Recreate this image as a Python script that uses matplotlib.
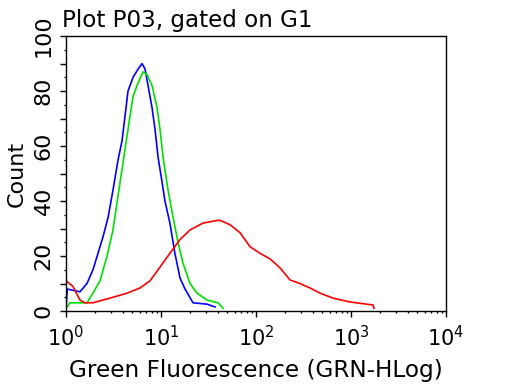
import numpy as np
import matplotlib
matplotlib.use("Agg")
import matplotlib.pyplot as plt
from matplotlib.ticker import FixedLocator, FuncFormatter, LogLocator, NullFormatter

# values (x in fluorescence units, y in counts)
blue_x = [1.0, 1.03, 1.4, 1.66, 1.92, 2.17, 2.45, 2.77, 3.12, 3.53, 3.89, 4.18, 4.49, 5.07,
          5.73, 6.31, 6.79, 7.3, 8.04, 8.65, 9.3, 10.25, 11.0, 12.4, 14.0, 15.85, 17.9,
          21.7, 30.5, 37.0]
blue_y = [1, 8, 7, 10, 15, 21, 27, 34, 44, 55, 62, 71, 80, 85,
          88, 90, 88, 82, 74, 66, 56, 47, 40, 32, 21, 12, 8,
          3, 2.5, 1.5]

green_x = [1.0, 1.1, 1.66, 1.92, 2.28, 2.7, 3.12, 3.53, 3.98, 4.49, 5.07, 5.73, 6.47, 7.12,
           8.04, 9.08, 9.76, 10.5, 11.85, 13.4, 15.1, 17.0, 20.2, 23.9, 30.5, 39.8, 45.0]
green_y = [1, 3, 3, 6.5, 11, 20, 29.5, 42, 54, 66, 78, 83, 87, 86,
           82, 74, 66, 56, 44, 34, 25, 17.5, 10, 6.5, 4, 3, 1]

red_x = [1.0, 1.18, 1.4, 1.58, 1.92, 2.9, 4.39, 6.01, 7.66, 9.76, 12.4, 15.85, 20.2, 27.7,
         39.8, 41.8, 53.2, 67.9, 86.5, 110, 140, 179, 228, 290, 370, 472, 647, 975,
         1706, 1750]
red_y = [11, 9, 4, 3, 3, 4.7, 6.5, 8.4, 11, 16, 21, 26, 29.5, 32,
         33, 33, 31.4, 28.5, 23.4, 21, 19, 15.7, 11.3, 10, 8.4, 6.5, 4.7, 3.3,
         2.2, 1]

fig = plt.figure(figsize=(5.12, 3.84), dpi=100)
ax = fig.add_axes([0.129, 0.19, 0.742, 0.716])

ax.plot(blue_x, blue_y, color="#0000ff", lw=1.2)
ax.plot(green_x, green_y, color="#00e000", lw=1.2)
ax.plot(red_x, red_y, color="#ff0000", lw=1.2)

ax.set_xscale("log")
ax.set_xlim(1, 1e4)
ax.set_ylim(0, 100)

ax.xaxis.set_major_locator(FixedLocator([1, 10, 100, 1000, 10000]))
ax.xaxis.set_major_formatter(FuncFormatter(lambda v, p: r"$10^{%d}$" % round(np.log10(v))))
ax.xaxis.set_minor_locator(LogLocator(base=10, subs=np.arange(2, 10)))
ax.xaxis.set_minor_formatter(NullFormatter())

ax.yaxis.set_major_locator(FixedLocator(np.arange(0, 101, 10)))
ax.yaxis.set_major_formatter(FuncFormatter(lambda v, p: "%d" % v if v % 20 == 0 else ""))
ax.yaxis.set_minor_locator(FixedLocator(np.arange(5, 100, 10)))

ax.tick_params(which="major", direction="out", length=4, width=1)
ax.tick_params(which="minor", direction="out", length=1.5, width=1)
ax.tick_params(axis="x", which="major", labelsize=15, pad=6)
ax.tick_params(axis="y", which="major", labelsize=16, pad=5)
for lab in ax.get_yticklabels():
    lab.set_rotation(90)
    lab.set_va("center")

for s in ax.spines.values():
    s.set_linewidth(1)

ax.set_xlabel("Green Fluorescence (GRN-HLog)", fontsize=16.7)
ax.xaxis.set_label_coords(0.5, -0.175)
ax.set_ylabel("Count", fontsize=16)
ax.yaxis.set_label_coords(-0.104, 0.5)
fig.text(0.121, 0.930, "Plot P03, gated on G1", fontsize=16.6, ha="left", va="baseline")

fig.savefig("out.png", dpi=100)
